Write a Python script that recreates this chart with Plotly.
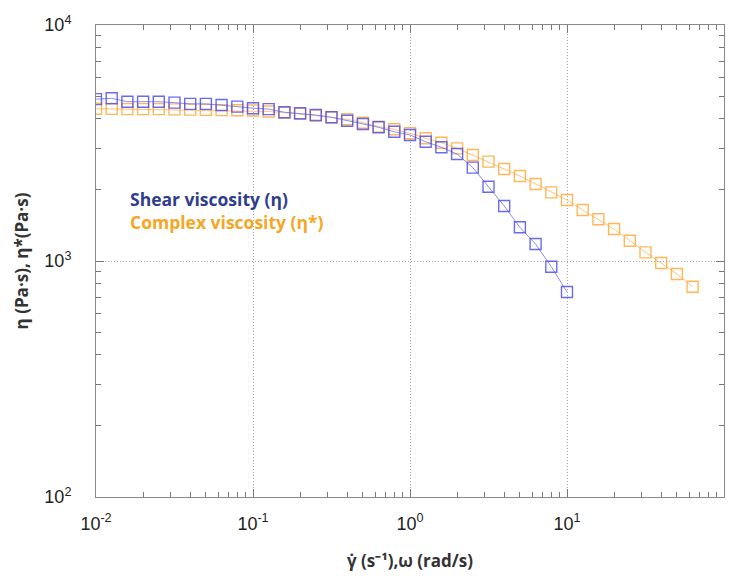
import numpy as np
import plotly.graph_objects as go

# shear rate / angular frequency (10 points per decade)
shear_rate = [10 ** (-2 + i / 10) for i in range(31)]
omega = [10 ** (-2 + i / 10) for i in range(39)]

shear_visc = [4850, 4890, 4730, 4730, 4730, 4690, 4630, 4630, 4580, 4510,
              4440, 4400, 4270, 4225, 4155, 4064, 3931, 3806, 3686, 3530,
              3420, 3203, 3032, 2840, 2486, 2064, 1711, 1389, 1180, 946, 739]

complex_visc = [4420, 4410, 4400, 4400, 4400, 4390, 4380, 4370, 4360, 4350,
                4340, 4300, 4250, 4200, 4130, 4064, 3984, 3855, 3707, 3614,
                3478, 3311, 3172, 3002, 2813, 2636, 2454, 2291, 2120, 1953,
                1813, 1644, 1502, 1366, 1219, 1088, 980, 881, 778]

x_tickvals = [0.01, 0.1, 1, 10, 100]
x_ticktext = ["10<sup>-2</sup>", "10<sup>-1</sup>", "10<sup>0</sup>", "10<sup>1</sup>", "10<sup>2</sup>"]
y_tickvals = [100, 1000, 10000]
y_ticktext = ["10<sup>2</sup>", "10<sup>3</sup>", "10<sup>4</sup>"]
x_minor = [m * 10 ** e for e in range(-2, 2) for m in range(2, 10)]
y_minor = [m * 10 ** e for e in range(2, 4) for m in range(2, 10)]

BLUE = "rgba(80,80,235,0.85)"
ORANGE = "rgba(255,170,60,0.85)"
TICKFONT = dict(family="Liberation Sans", size=18, color="#222222")
TITLEFONT = dict(family="Open Sans", size=17, color="#333333")

fig = go.Figure()
fig.add_trace(go.Scatter(
    x=omega, y=complex_visc, mode="lines+markers",
    line=dict(color="rgba(255,180,90,0.8)", width=1),
    marker=dict(symbol="square-open", size=11, color=ORANGE, line=dict(width=1.4)),
    showlegend=False))
fig.add_trace(go.Scatter(
    x=shear_rate, y=shear_visc, mode="lines+markers",
    line=dict(color="rgba(110,110,240,0.8)", width=1),
    marker=dict(symbol="square-open", size=11, color=BLUE, line=dict(width=1.4)),
    showlegend=False))

axis_common = dict(
    type="log", showline=True, linecolor="#888888", linewidth=1, mirror="allticks",
    ticks="inside", ticklen=8, tickcolor="#777777", tickwidth=1,
    showgrid=True, gridcolor="#a8a8a8", griddash="1px,2px", gridwidth=1,
    zeroline=False, automargin=False,
    tickfont=TICKFONT,
)

fig.update_xaxes(**axis_common, range=[-2, 2], tickvals=x_tickvals, ticktext=x_ticktext,
                 ticklabelstandoff=10,
                 minor=dict(ticks="inside", ticklen=5, tickcolor="#777777", showgrid=False,
                            tickvals=x_minor),
                 title=dict(text="<b>γ̇ (s⁻¹),ω (rad/s)</b>", standoff=22, font=TITLEFONT))
fig.update_yaxes(**axis_common, range=[2, 4], tickvals=y_tickvals, ticktext=y_ticktext,
                 ticklabelstandoff=20,
                 minor=dict(ticks="inside", ticklen=5, tickcolor="#777777", showgrid=False,
                            tickvals=y_minor),
                 title=dict(text="<b>η (Pa·s), η*(Pa·s)</b>", standoff=11, font=TITLEFONT))

# white box behind legend text (hides gridlines)
fig.add_shape(type="rect", xref="paper", yref="paper", x0=0.078, x1=0.378, y0=0.49, y1=0.66,
              fillcolor="white", line=dict(width=0), layer="between")

fig.add_annotation(xref="paper", yref="paper", x=0.051, y=0.631, xanchor="left", yanchor="middle",
                   text="<b>Shear viscosity (η)</b>", showarrow=False,
                   font=dict(family="Open Sans", size=17.5, color="#2E3E8C"))
fig.add_annotation(xref="paper", yref="paper", x=0.051, y=0.583, xanchor="left", yanchor="middle",
                   text="<b>Complex viscosity (η*)</b>", showarrow=False,
                   font=dict(family="Open Sans", size=17.5, color="#F5A623"))

fig.update_layout(
    width=734, height=576,
    margin=dict(l=96, r=10, t=25, b=79),
    plot_bgcolor="white", paper_bgcolor="white",
)

fig.write_html("out.html", config={"displayModeBar": False},
               post_script="document.body.style.margin='0';")
